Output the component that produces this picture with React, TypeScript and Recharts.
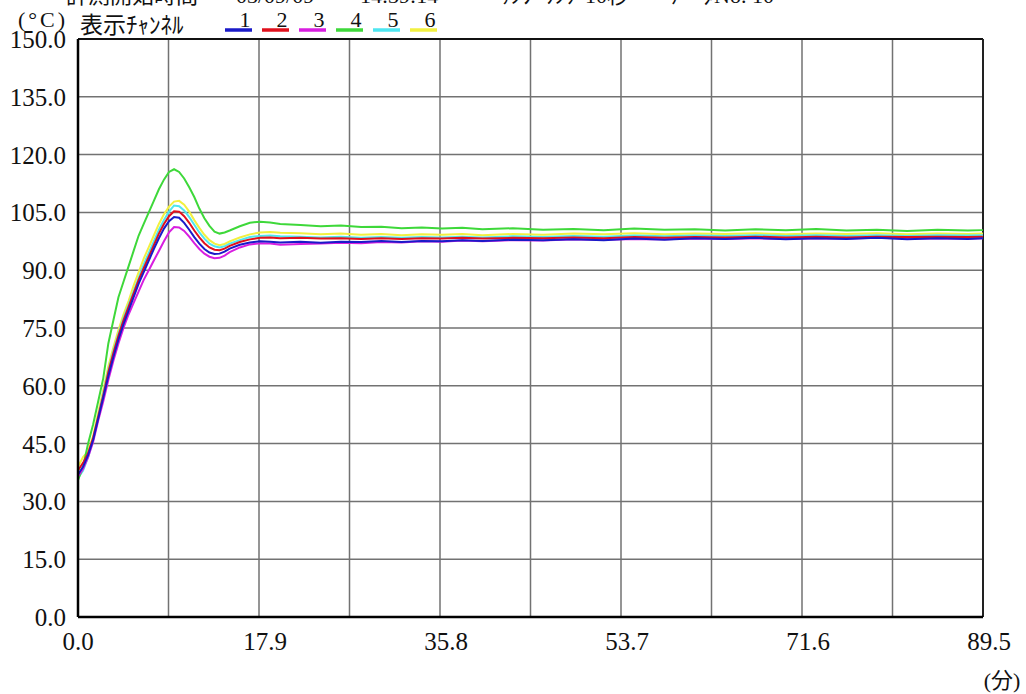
import { LineChart, Line, XAxis, YAxis, CartesianGrid, ReferenceLine } from 'recharts';

// minutes
const times = [
  0, 0.5, 1, 1.5, 2, 2.5, 3, 3.5, 4, 4.5, 5, 5.5, 6, 6.5, 7, 7.5, 8, 8.5, 9, 9.5,
  10, 10.5, 11, 11.5, 12, 12.5, 13, 13.5, 14, 14.5, 15,
  16, 17, 18, 19, 20,
  22, 24, 26, 28, 30, 32, 34, 36, 38, 40,
  43, 46, 49, 52, 55, 58, 61, 64, 67, 70, 73, 76, 79, 82, 85, 88, 89.5,
];

const ch1 = [
  37, 39, 42, 46, 51.5, 57, 62.5, 67.5, 72, 76, 79.5, 83, 86.5, 89.5, 92.5, 95.5, 98.3, 100.8, 102.7, 103.8,
  103.6, 102.3, 100.5, 98.6, 96.9, 95.5, 94.6, 94.2, 94.3, 94.8, 95.6,
  96.6, 97.2, 97.5, 97.4, 97.2,
  97.4, 97.1, 97.4, 97.3, 97.6, 97.3, 97.6, 97.5, 97.8, 97.6,
  97.9, 97.8, 98, 97.8, 98.2, 97.9, 98.3, 98.1, 98.4, 98, 98.3, 98.1, 98.4, 98, 98.3, 98.1, 98.3,
];
const ch2 = [
  38, 40, 42.5, 46.5, 52, 57.5, 63.5, 68.5, 73, 77, 80.5, 84, 87.5, 90.5, 93.5, 96.5, 99.5, 102, 104, 105.3,
  105.2, 104, 102.3, 100.3, 98.5, 97, 95.9, 95.3, 95.2, 95.6, 96.3,
  97.3, 98, 98.4, 98.5, 98.3,
  98.4, 98.2, 98.3, 98.1, 98.3, 98.1, 98.3, 98.2, 98.4, 98.2,
  98.4, 98.3, 98.5, 98.3, 98.6, 98.4, 98.6, 98.5, 98.7, 98.5, 98.7, 98.5, 98.7, 98.6, 98.7, 98.6, 98.7,
];
const ch3 = [
  36.5, 38.5, 41.5, 45.5, 51, 56, 61.5, 66.5, 71, 75, 78.5, 81.5, 84.5, 87.5, 90, 92.5, 95, 97.5, 99.8, 101.2,
  101.1, 100.2, 98.7, 97, 95.5, 94.3, 93.5, 93.1, 93.2, 93.8, 94.7,
  95.9, 96.7, 97, 96.9, 96.6,
  96.8, 96.9, 97.1, 97, 97.3, 97.2, 97.5, 97.4, 97.7, 97.5,
  97.8, 97.7, 98, 97.9, 98.1, 98, 98.2, 98.1, 98.3, 98.1, 98.3, 98.2, 98.4, 98.2, 98.3, 98.2, 98.3,
];
const ch4 = [
  35.5, 39, 45, 50, 56, 62, 71, 77, 83, 87, 91, 95, 99, 102, 105, 108, 111, 113.5, 115.5, 116.2,
  115.5, 113.8, 111.5, 109, 106, 103.5, 101.5, 100, 99.5, 99.8, 100.3,
  101.4, 102.3, 102.6, 102.4, 102,
  101.7, 101.4, 101.6, 101.2, 101.3, 100.9, 101.1, 100.8, 101, 100.6,
  100.9, 100.5, 100.7, 100.4, 100.8, 100.5, 100.6, 100.3, 100.6, 100.4, 100.7, 100.3, 100.5, 100.2, 100.5, 100.3, 100.4,
];
const ch5 = [
  36, 38, 41.5, 46, 52, 58, 64, 69, 73.5, 77.5, 81, 84.5, 88, 91.5, 94.5, 97.5, 100.5, 103, 105.2, 106.8,
  106.6, 105.5, 103.8, 101.8, 99.8, 98.2, 96.9, 96.2, 95.9, 96.2, 96.9,
  97.8, 98.6, 98.9, 99, 98.8,
  98.7, 98.5, 98.7, 98.4, 98.6, 98.4, 98.6, 98.5, 98.7, 98.5,
  98.8, 98.6, 98.9, 98.7, 99, 98.8, 99, 98.9, 99.1, 98.9, 99.1, 98.9, 99.1, 98.9, 99.1, 99, 99.1,
];
const ch6 = [
  39, 41.5, 43, 47, 53, 59, 65, 70, 74.5, 78.5, 82, 86, 89.5, 93, 96, 99, 102, 104.5, 106.5, 107.8,
  108, 107, 105.2, 103, 101, 99.2, 97.8, 96.9, 96.5, 96.8, 97.5,
  98.5, 99.3, 99.8, 99.9, 99.7,
  99.6, 99.3, 99.5, 99.2, 99.4, 99.1, 99.3, 99.2, 99.4, 99.1,
  99.4, 99.2, 99.5, 99.3, 99.6, 99.3, 99.5, 99.4, 99.6, 99.3, 99.5, 99.4, 99.6, 99.3, 99.5, 99.4, 99.5,
];

const xTicks = [0, 8.95, 17.9, 26.85, 35.8, 44.75, 53.7, 62.65, 71.6, 80.55, 89.5];
const yTicks = [0, 15, 30, 45, 60, 75, 90, 105, 120, 135, 150];

const channels = ['1', '2', '3', '4', '5', '6'];
const channelColors = ['#1a1ac8', '#e0101c', '#d81ee0', '#3ed83a', '#4ee6f0', '#f2f040'];
const seriesValues = [ch1, ch2, ch3, ch4, ch5, ch6];

// header line, cut off at the top edge in the original printout
const headerParts = ['計測開始時間', '03/09/09', '14:39:14', 'ｻﾝﾌﾟﾘﾝｸﾞ', '10秒', 'ﾃﾞｰﾀNo. 10'];
const headerX = [66, 236, 360, 500, 585, 670];

const data = times.map((t, i) => {
  const row: Record<string, number> = { t };
  seriesValues.forEach((s, k) => { row['c' + (k + 1)] = s[i]; });
  return row;
});

const FONT = "'Liberation Serif', 'Noto Sans CJK JP', serif";

const YTick = (props: any) => {
  const { y, payload } = props;
  return (
    <text x={66} y={y + 9} textAnchor="end" fontSize={25} fontFamily={FONT} fill="#111">
      {payload.value.toFixed(1)}
    </text>
  );
};

const XTick = (props: any) => {
  const { x, payload, index } = props;
  if (index % 2 !== 0) return null;
  return (
    <text x={x + (index === 0 ? 0 : 6)} y={650} textAnchor="middle" fontSize={25} fontFamily={FONT} fill="#111">
      {payload.value.toFixed(1)}
    </text>
  );
};

export default function App() {
  // draw channel 6 first so channel 1 ends up on top
  const order = [5, 4, 3, 2, 1, 0];
  return (
    <div style={{ position: 'absolute', left: 0, top: 0, width: 1026, height: 694, background: '#fff' }}>
      <LineChart width={1026} height={694} data={data} margin={{ top: 39, right: 43, bottom: 0, left: 0 }}>
        <CartesianGrid stroke="#727272" strokeWidth={1.5} />
        <XAxis
          dataKey="t"
          type="number"
          domain={[0, 89.5]}
          ticks={xTicks}
          interval={0}
          tick={<XTick />}
          tickLine={false}
          axisLine={{ stroke: '#000', strokeWidth: 2.5 }}
          height={77}
        />
        <YAxis
          type="number"
          domain={[0, 150]}
          ticks={yTicks}
          interval={0}
          tick={<YTick />}
          tickLine={false}
          axisLine={{ stroke: '#000', strokeWidth: 2.5 }}
          width={78}
        />
        <ReferenceLine y={150} stroke="#111" strokeWidth={2} />
        <ReferenceLine x={89.5} stroke="#222" strokeWidth={2} />
        {order.map((k) => (
          <Line
            key={k}
            dataKey={'c' + (k + 1)}
            stroke={channelColors[k]}
            strokeWidth={2}
            dot={false}
            type="linear"
            isAnimationActive={false}
          />
        ))}
      </LineChart>
      <svg width={1026} height={694} style={{ position: 'absolute', left: 0, top: 0, pointerEvents: 'none' }}>
        <text y={3} fontSize={22} fontFamily={FONT} fill="#111">
          {headerParts.map((p, i) => (
            <tspan key={i} x={headerX[i]}>{p}</tspan>
          ))}
        </text>
        <text x={18} y={27} fontSize={22} letterSpacing={3} fontFamily={FONT} fill="#111">(°C)</text>
        <text x={80} y={33} fontSize={23} fontFamily={FONT} fill="#111">表示ﾁｬﾝﾈﾙ</text>
        {channels.map((c, i) => {
          const x0 = 225 + i * 37;
          return (
            <g key={c}>
              <line x1={x0} x2={x0 + 27} y1={30} y2={30} stroke={channelColors[i]} strokeWidth={3.5} />
              <text x={x0 + 20} y={27} textAnchor="middle" fontSize={22} fontFamily={FONT} fill="#111">{c}</text>
            </g>
          );
        })}
        <text x={1002} y={688} textAnchor="middle" fontSize={22} fontFamily={FONT} fill="#111">(分)</text>
      </svg>
    </div>
  );
}
